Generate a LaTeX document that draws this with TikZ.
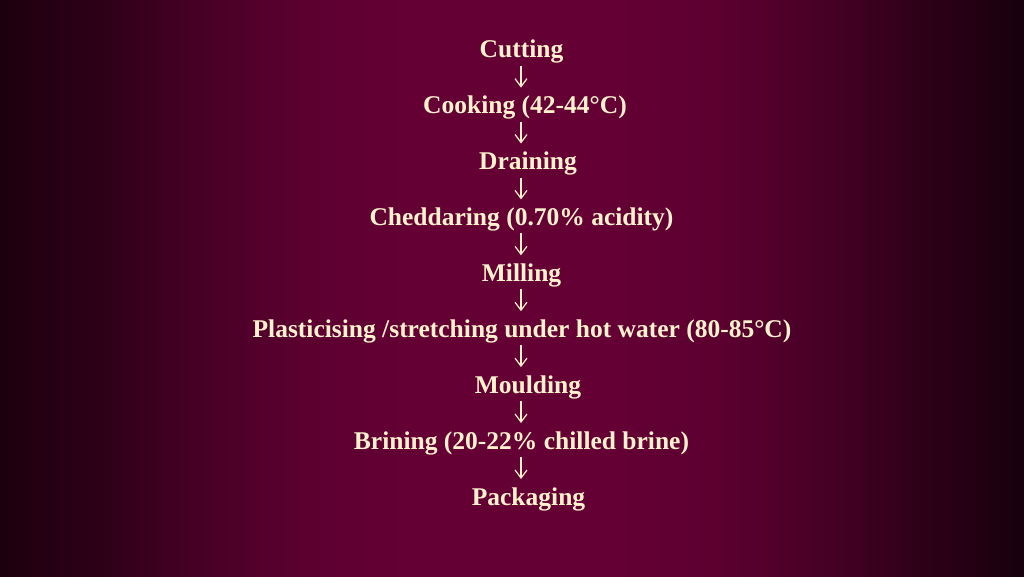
\documentclass[tikz,border=0pt]{standalone}
\usepackage{fontspec}
\setmainfont{Liberation Serif}
\usetikzlibrary{arrows.meta}
\definecolor{bgedgeL}{HTML}{1C000E}
\definecolor{bgA}{HTML}{2E0018}
\definecolor{bgB}{HTML}{480026}
\definecolor{bgC}{HTML}{5C0030}
\definecolor{bgD}{HTML}{640034}
\definecolor{bgedgeR}{HTML}{18000D}
\definecolor{cream}{HTML}{FFF2CC}
\pgfdeclarehorizontalshading{bgshade}{100bp}{color(0bp)=(bgedgeL); color(25bp)=(bgedgeL); color(30bp)=(bgA); color(35bp)=(bgB); color(40bp)=(bgC); color(45bp)=(bgD); color(55bp)=(bgD); color(60bp)=(bgC); color(65bp)=(bgB); color(70bp)=(bgA); color(75bp)=(bgedgeR); color(100bp)=(bgedgeR)}
\tikzset{
  stepnode/.style={text=cream, font=\fontsize{25.5}{30}\selectfont\bfseries, inner sep=0pt, anchor=base},
  flowarrow/.style={draw=cream, line width=1.2pt, -{Straight Barb[length=8pt,width=12pt,line width=1.2pt]}}
}
\begin{document}
\begin{tikzpicture}[x=1pt,y=-1pt]
\shade[shading=bgshade] (0,0) rectangle (1024,576);
\useasboundingbox (0,0) rectangle (1024,576);
\coordinate (ax) at (521,0);
\node[stepnode] (n1) at (521.5,57.7) {Cutting};
\node[stepnode] (n2) at (525,113.6) {Cooking (42-44°C)};
\node[stepnode] (n3) at (528,169.5) {Draining};
\node[stepnode] (n4) at (521.5,225.4) {Cheddaring (0.70\% acidity)};
\node[stepnode] (n5) at (521.5,281.3) {Milling};
\node[stepnode] (n6) at (522,337.2) {Plasticising /stretching under hot water (80-85°C)};
\node[stepnode] (n7) at (528,393.1) {Moulding};
\node[stepnode] (n8) at (521.5,449) {Brining (20-22\% chilled brine)};
\node[stepnode] (n9) at (528.5,505) {Packaging};
\foreach \a/\b in {n1/n2,n2/n3,n3/n4,n4/n5,n5/n6,n6/n7,n7/n8,n8/n9}
  \draw[flowarrow] ([yshift=-8pt]ax |- \a.base) -- ([yshift=26pt]ax |- \b.base);
\end{tikzpicture}
\end{document}
